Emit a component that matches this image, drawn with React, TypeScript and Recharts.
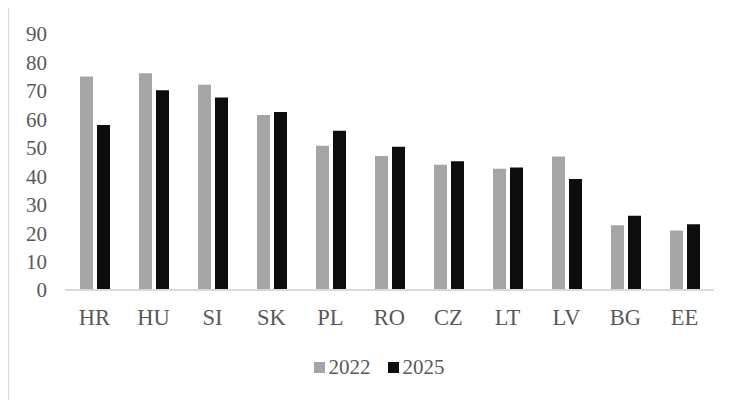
import { Bar, BarChart, Legend, XAxis, YAxis } from "recharts";

const countries = ["HR", "HU", "SI", "SK", "PL", "RO", "CZ", "LT", "LV", "BG", "EE"];
const values2022 = [75.1, 76.2, 72.2, 61.5, 50.7, 47.1, 44.0, 42.6, 46.9, 22.8, 20.9];
const values2025 = [58.0, 70.2, 67.7, 62.6, 56.0, 50.4, 45.3, 43.1, 39.0, 26.1, 23.1];
const yTicks = [0, 10, 20, 30, 40, 50, 60, 70, 80, 90];

const series = [
  { key: "y2022", name: "2022", color: "#a5a5a5" },
  { key: "y2025", name: "2025", color: "#0d0d0d" },
];

const FONT = '"Liberation Serif", "Times New Roman", serif';
const TEXT = "#595959";

const data = countries.map((c, i) => ({
  country: c,
  y2022: values2022[i],
  y2025: values2025[i],
}));

// plain legend: small squares + years, sitting lower than recharts would put it
function LegendBox() {
  return (
    <div
      style={{
        display: "flex",
        justifyContent: "center",
        gap: 17,
        paddingTop: 25,
        paddingLeft: 14,
        fontFamily: FONT,
        fontSize: 21,
        lineHeight: "24px",
        color: TEXT,
      }}
    >
      {series.map((s) => (
        <span key={s.key} style={{ display: "flex", alignItems: "center", gap: 4 }}>
          <span style={{ width: 11, height: 11, background: s.color, display: "inline-block" }} />
          {s.name}
        </span>
      ))}
    </div>
  );
}

export default function App() {
  return (
    <div
      style={{
        width: 726,
        height: 394,
        margin: "-2px 0 0 -1px",
        borderLeft: "2px solid #d9d9d9",
        borderTop: "2px solid #d9d9d9",
        background: "#fff",
      }}
    >
      <BarChart
        width={726}
        height={394}
        data={data}
        margin={{ top: 26, right: 21, left: 0, bottom: 0 }}
        barSize={13}
        barGap={4}
      >
        <YAxis
          domain={[0, 90]}
          ticks={yTicks}
          interval={0}
          width={56}
          axisLine={false}
          tickLine={false}
          tickMargin={12}
          tick={{ fill: TEXT, fontSize: 21, fontFamily: FONT }}
        />
        <XAxis
          dataKey="country"
          height={40}
          interval={0}
          tickLine={false}
          tickMargin={13}
          axisLine={{ stroke: "#d9d9d9", strokeWidth: 2 }}
          tick={{ fill: TEXT, fontSize: 22.5, fontFamily: FONT }}
        />
        <Legend
          verticalAlign="bottom"
          height={72}
          content={<LegendBox />}
          wrapperStyle={{ left: 0, width: 726, height: 72 }}
        />
        {series.map((s) => (
          <Bar key={s.key} dataKey={s.key} name={s.name} fill={s.color} isAnimationActive={false} />
        ))}
      </BarChart>
    </div>
  );
}
